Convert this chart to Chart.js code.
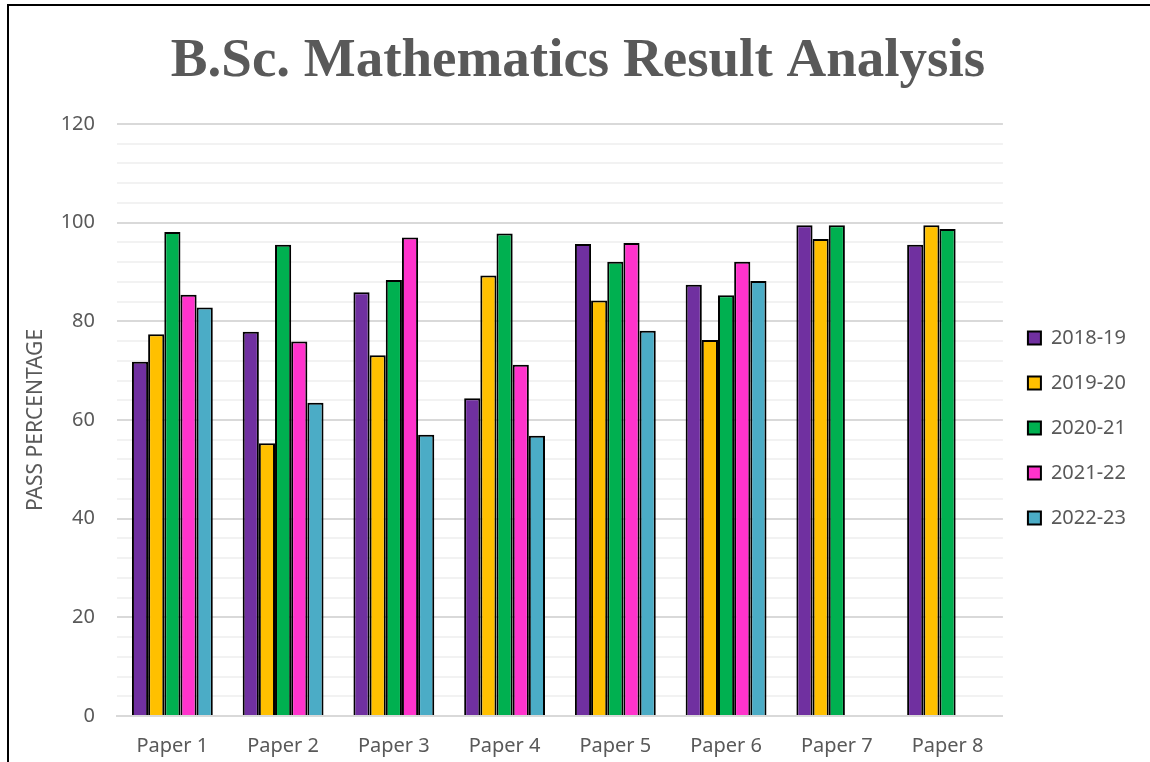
<!DOCTYPE html>
<html>
<head>
<meta charset="utf-8">
<script src="https://cdn.jsdelivr.net/npm/chart.js@4.4.1/dist/chart.umd.min.js"></script>
<style>
  html, body { margin: 0; padding: 0; background: #fff; }
  #wrap { position: relative; width: 1150px; height: 762px; }
  #frame { position: absolute; left: 7px; top: 4px; right: 0; bottom: 0; border-left: 2px solid #000; border-top: 2px solid #000; pointer-events: none; }
</style>
</head>
<body>
<div id="wrap">
  <canvas id="grafico" width="1150" height="762"></canvas>
  <div id="frame"></div>
</div>
<script>
const papers = ["Paper 1", "Paper 2", "Paper 3", "Paper 4", "Paper 5", "Paper 6", "Paper 7", "Paper 8"];
const years = ["2018-19", "2019-20", "2020-21", "2021-22", "2022-23"];

const pass1819 = [71.8, 77.9, 85.9, 64.4, 95.7, 87.4, 99.5, 95.5];
const pass1920 = [77.4, 55.3, 73.1, 89.3, 84.2, 76.2, 96.7, 99.5];
const pass2021 = [98.1, 95.5, 88.4, 97.8, 92.1, 85.3, 99.5, 98.7];
const pass2122 = [85.4, 75.9, 97.0, 71.2, 95.9, 92.1, null, null];
const pass2223 = [82.8, 63.5, 57.0, 56.8, 78.1, 88.2, null, null];

const colores = ['#7030A0', '#FFC000', '#00B050', '#FF33CC', '#4BACC6'];
const series = [pass1819, pass1920, pass2021, pass2122, pass2223];

let grafico = document.getElementById("grafico").getContext('2d');

var chart = new Chart(grafico, {
  type: 'bar',
  data: {
    labels: papers,
    datasets: series.map((d, i) => ({
      label: years[i],
      data: d,
      backgroundColor: colores[i],
      borderColor: '#000',
      borderWidth: 2,
      categoryPercentage: 0.73,
      barPercentage: 1
    }))
  },
  options: {
    responsive: false,
    animation: false,
    layout: { padding: { left: 20, right: 14, top: 18, bottom: 2 } },
    plugins: {
      title: {
        display: true,
        text: 'B.Sc. Mathematics Result Analysis',
        color: '#595959',
        font: { family: 'Liberation Serif', size: 55, weight: 'bold' },
        padding: { top: 11, bottom: 29 }
      },
      legend: {
        position: 'right',
        // empty title only pushes the items down to where the original has them
        title: { display: true, text: ' ', font: { size: 10 }, padding: { top: 33, bottom: 33 } },
        labels: {
          color: '#595959',
          font: { family: 'Noto Sans', size: 20 },
          boxWidth: 13,
          boxHeight: 13,
          padding: 25
        }
      },
      tooltip: { enabled: false }
    },
    scales: {
      x: {
        afterFit: s => { s.height = 44; },
        grid: { display: false, drawTicks: false },
        border: { color: '#d9d9d9', width: 2 },
        ticks: { color: '#595959', font: { family: 'Noto Sans', size: 20 }, padding: 18 }
      },
      y: {
        min: 0,
        max: 120,
        afterFit: s => { s.width = 97; },
        border: { display: false },
        grid: {
          color: ctx => ctx.tick.value % 20 === 0 ? '#d9d9d9' : '#f2f2f2',
          lineWidth: 2,
          drawTicks: false
        },
        ticks: {
          stepSize: 4,
          autoSkip: false,
          color: '#595959',
          font: { family: 'Noto Sans', size: 20 },
          padding: 22,
          callback: v => v % 20 === 0 ? v : ''
        },
        title: {
          display: true,
          text: 'PASS PERCENTAGE',
          color: '#595959',
          font: { family: 'Noto Sans', size: 21 },
          padding: 3
        }
      }
    }
  }
});
</script>
</body>
</html>
